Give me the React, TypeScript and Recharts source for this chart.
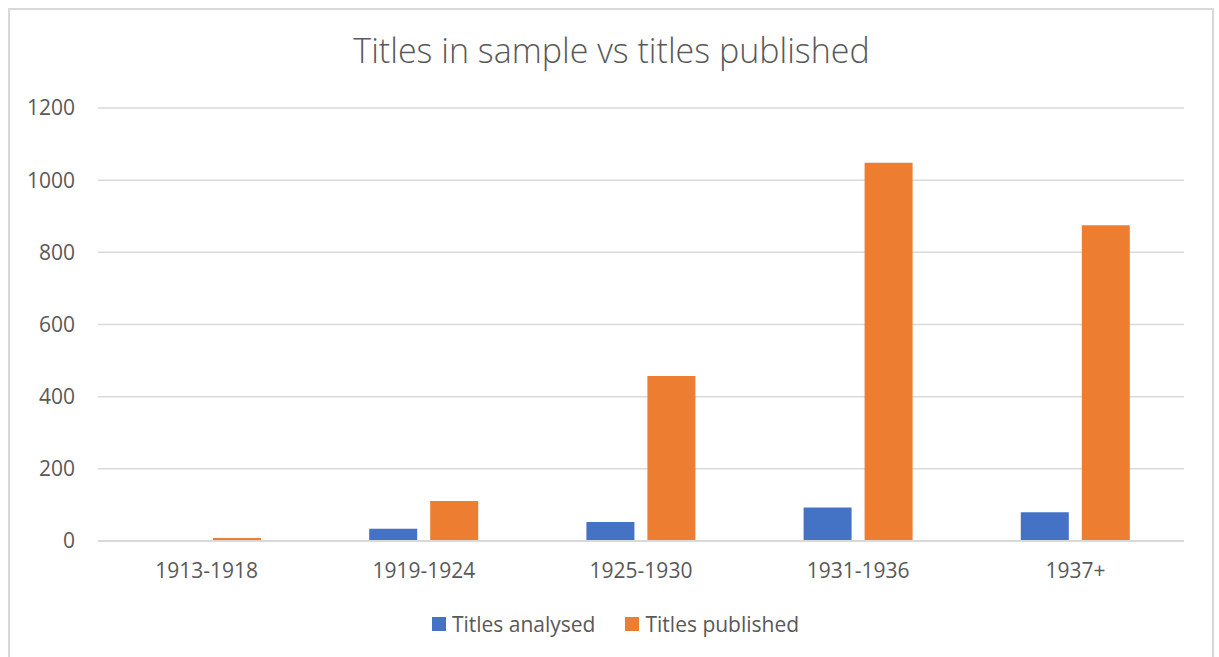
import * as React from 'react'
import { BarChart, Bar, XAxis, YAxis, CartesianGrid, Legend } from 'recharts'

const periods = ['1913-1918', '1919-1924', '1925-1930', '1931-1936', '1937+']
const titlesAnalysed = [0, 34, 53, 93, 80]
const titlesPublished = [8, 111, 457, 1048, 875]
const yTicks = [0, 200, 400, 600, 800, 1000, 1200]

const chartData = periods.map((p, i) => ({
  period: p,
  analysed: titlesAnalysed[i],
  published: titlesPublished[i],
}))

const FONT = '"Open Sans", sans-serif'
const TEXT = '#595959'

interface LegendItem {
  color: string
  value: string
}

function ChartLegend({ payload }: { payload?: LegendItem[] }) {
  if (!payload?.length) return null
  return (
    <div style={{ display: 'flex', justifyContent: 'center', gap: 30, fontFamily: FONT, paddingLeft: 12 }}>
      {payload.map((item) => (
        <span key={item.value} style={{ display: 'flex', alignItems: 'center', gap: 6 }}>
          <span style={{ display: 'inline-block', width: 14, height: 14, background: item.color }} />
          <span style={{ fontSize: 21, color: TEXT, lineHeight: '28px' }}>{item.value}</span>
        </span>
      ))}
    </div>
  )
}

export default function App() {
  return (
    <div
      style={{
        position: 'absolute',
        left: 0,
        top: 0,
        width: 1219,
        height: 657,
        overflow: 'hidden',
        background: '#fff',
      }}
    >
      <div
        style={{
          position: 'absolute',
          left: 8,
          top: 8,
          width: 1202,
          height: 700,
          border: '2px solid #d9d9d9',
        }}
      />
      <div
        style={{
          position: 'absolute',
          left: 0,
          top: 26,
          width: 1223,
          textAlign: 'center',
          fontFamily: FONT,
          fontWeight: 300,
          fontSize: 34,
          color: TEXT,
          lineHeight: '48px',
        }}
      >
        Titles in sample vs titles published
      </div>
      <div style={{ position: 'absolute', left: 0, top: 0 }}>
        <BarChart
          width={1219}
          height={657}
          data={chartData}
          margin={{ top: 108, right: 35, left: 38, bottom: 48 }}
          barGap={13}
          barSize={48}
        >
          <CartesianGrid vertical={false} stroke="#d9d9d9" strokeWidth={1.5} />
          <XAxis
            dataKey="period"
            height={40}
            tickLine={false}
            tickSize={0}
            tickMargin={22}
            axisLine={{ stroke: '#d9d9d9', strokeWidth: 2 }}
            tick={{ fill: TEXT, fontSize: 21, fontFamily: FONT }}
          />
          <YAxis
            width={60}
            domain={[0, 1200]}
            ticks={yTicks}
            axisLine={false}
            tickLine={false}
            tickSize={0}
            tickMargin={23}
            tick={{ fill: TEXT, fontSize: 21, fontFamily: FONT }}
          />
          <Legend
            content={<ChartLegend />}
            verticalAlign="bottom"
            wrapperStyle={{ top: 610, bottom: 'auto', left: 0, width: 1219 }}
          />
          <Bar dataKey="analysed" name="Titles analysed" fill="#4472C4" isAnimationActive={false} />
          <Bar dataKey="published" name="Titles published" fill="#ED7D31" isAnimationActive={false} />
        </BarChart>
      </div>
    </div>
  )
}
